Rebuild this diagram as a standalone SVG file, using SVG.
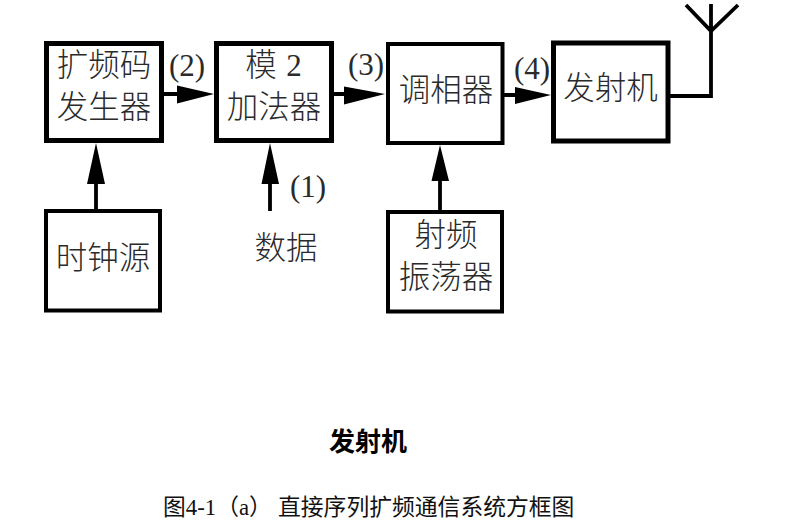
<svg xmlns="http://www.w3.org/2000/svg" width="785" height="522" viewBox="0 0 785 522">
<style>
.box{fill:#fff;stroke:#000;stroke-width:5}
.thin{stroke-width:4}
.line{fill:none;stroke:#000;stroke-width:3.8}
.head{fill:#000}
text{font-family:"Noto Sans CJK SC","Liberation Serif",sans-serif;fill:#2a2a2a;text-anchor:middle}
.zh{font-size:31.500px;font-weight:300}
.num{font-family:"Liberation Serif",serif;font-size:31px}
</style>
<rect width="785" height="522" fill="#fff"/>
<g id="connectors">
<path class="line" d="M164 94H180M334 94H348M504 95H518M96 209V180M270 211V180M440 210V178"/>
<path class="head" d="M177 85.500L214 94L177 103.500ZM344 86.500L385 94L344 104.500ZM515 87L551 95L515 104ZM87 184L96 143L105 184ZM261.500 184L270 143L279 184ZM431.500 181L440 145L449 181Z"/>
<path class="line" d="M670 96H711V4M686 5L711 31L738 5"/>
</g>
<g id="n1"><rect class="box" x="46.500" y="43.500" width="115" height="97"/><text class="zh" x="104" y="76">扩频码</text><text class="zh" x="104" y="118">发生器</text></g>
<g id="n2"><rect class="box" x="216.500" y="43.500" width="115" height="97"/><text class="zh" x="261" y="76">模</text><text class="num" x="294" y="76">2</text><text class="zh" x="274" y="118">加法器</text></g>
<g id="n3"><rect class="box thin" x="388" y="44" width="114.500" height="99"/><text class="zh" x="446" y="101">调相器</text></g>
<g id="n4"><rect class="box" x="553.500" y="43" width="114.500" height="98"/><text class="zh" x="610.500" y="99">发射机</text></g>
<g id="n5"><rect class="box thin" x="46" y="211" width="114" height="99.500"/><text class="zh" x="103" y="269">时钟源</text></g>
<g id="n6"><rect class="box thin" x="388" y="212" width="114" height="99.500"/><text class="zh" x="446" y="246">射频</text><text class="zh" x="446" y="288">振荡器</text></g>
<g id="labels">
<text class="num" x="187" y="76">(2)</text>
<text class="num" x="366" y="75">(3)</text>
<text class="num" x="532" y="79">(4)</text>
<text class="num" x="308" y="197">(1)</text>
<text class="zh" x="286" y="259">数据</text>
<text x="368" y="451" style="font-size:26px;font-weight:700;fill:#000">发射机</text>
<text x="163" y="515" style="font-size:22.800px;text-anchor:start;fill:#111">图<tspan font-family="Liberation Serif">4-1</tspan>（<tspan font-family="Liberation Serif">a</tspan>）</text>
<text x="278" y="515" style="font-size:22.800px;text-anchor:start;fill:#111">直接序列扩频通信系统方框图</text>
</g>
</svg>
